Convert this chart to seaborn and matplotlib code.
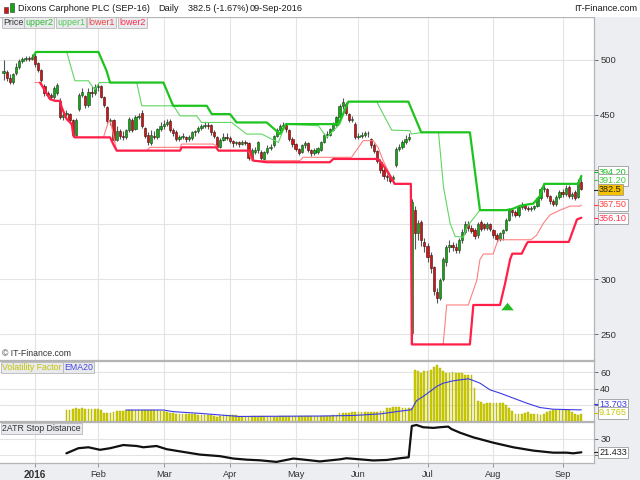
import numpy as np
import pandas as pd
import matplotlib
matplotlib.use("Agg")
import matplotlib.pyplot as plt
from matplotlib.patches import Rectangle
from matplotlib.transforms import blended_transform_factory
import seaborn as sns

# ---------------- data ----------------
holidays = ["2015-12-25", "2015-12-28", "2016-01-01", "2016-03-25",
            "2016-03-28", "2016-05-02", "2016-05-30", "2016-08-29"]
dates = pd.bdate_range("2015-12-16", "2016-09-09", freq="C", holidays=holidays)

opens = [488, 489, 484, 480, 488, 494, 499, 501, 502, 501,
         504, 497, 491, 476, 470, 468, 466, 470, 463, 448,
         451, 451, 445, 432, 455, 468, 467, 459, 471, 470,
         475, 476, 466, 457, 444, 445, 427, 435, 431, 430,
         436, 445, 437, 448, 452, 438, 432, 424, 431, 430,
         437, 440, 442, 444, 436, 434, 428, 430, 430, 428,
         429, 434, 435, 438, 440, 441, 441, 434, 430, 421,
         427, 430, 429, 426, 424, 425, 423, 425, 424, 411,
         416, 418, 416, 410, 416, 420, 422, 431, 436, 440,
         441, 436, 428, 423, 419, 416, 422, 424, 418, 415,
         416, 418, 425, 432, 432, 436, 441, 448, 458, 460,
         451, 445, 442, 430, 431, 432, 433, 428, 422, 417,
         407, 400, 394, 393, 391, 404, 419, 421, 425, 428,
         251, 363, 342, 352, 334, 330, 322, 311, 288, 283,
         300, 316, 329, 331, 329, 327, 336, 343, 350, 347,
         345, 340, 352, 350, 347, 350, 345, 340, 337, 342,
         345, 354, 363, 361, 359, 366, 368, 365, 364, 365,
         367, 374, 382, 382, 376, 371, 369, 375, 380, 378,
         384, 376, 380, 375, 389]
closes = [490, 484, 480, 487, 494, 499, 501, 502, 501, 503,
          496, 491, 482, 470, 468, 466, 474, 477, 448, 450,
          452, 445, 432, 445, 468, 471, 459, 471, 470, 475,
          476, 466, 459, 444, 445, 427, 435, 431, 430, 436,
          446, 436, 448, 449, 440, 431, 425, 432, 430, 437,
          440, 442, 443, 436, 433, 428, 430, 431, 428, 430,
          434, 435, 438, 440, 441, 440, 434, 431, 421, 427,
          430, 429, 426, 424, 425, 423, 425, 424, 411, 418,
          418, 425, 411, 416, 420, 421, 431, 436, 440, 441,
          437, 428, 423, 419, 415, 422, 424, 418, 415, 418,
          420, 425, 432, 432, 437, 442, 448, 458, 462, 452,
          445, 446, 430, 431, 432, 433, 433, 422, 417, 408,
          400, 394, 393, 390, 393, 419, 421, 425, 428, 430,
          370, 342, 351, 336, 330, 320, 310, 289, 283, 299,
          318, 329, 331, 329, 327, 336, 343, 350, 347, 344,
          339, 350, 346, 347, 350, 346, 340, 337, 342, 345,
          354, 363, 361, 359, 366, 368, 365, 364, 365, 367,
          374, 382, 383, 376, 371, 369, 375, 380, 378, 383,
          376, 378, 374, 389, 382.5]
highs = [500, 491, 487, 488, 497, 501, 503, 504, 504, 505,
         506, 498, 492, 478, 472, 470, 476, 479, 465, 453,
         454, 452, 446, 447, 470, 474, 468, 474, 476, 478,
         479, 477, 467, 458, 447, 446, 440, 437, 435, 437,
         448, 447, 450, 452, 454, 439, 434, 436, 435, 438,
         443, 445, 446, 446, 438, 436, 432, 433, 431, 432,
         435, 436, 440, 442, 443, 443, 442, 436, 431, 429,
         433, 433, 431, 427, 426, 426, 427, 427, 425, 420,
         421, 426, 418, 417, 422, 423, 432, 438, 442, 443,
         442, 437, 430, 424, 420, 423, 426, 425, 419, 420,
         421, 426, 433, 435, 438, 443, 449, 460, 465, 462,
         452, 449, 443, 433, 434, 435, 435, 429, 424, 418,
         410, 401, 396, 395, 395, 421, 423, 427, 432, 433,
         373, 367, 354, 354, 338, 333, 325, 312, 292, 301,
         320, 331, 336, 334, 333, 338, 346, 353, 353, 349,
         347, 352, 354, 351, 352, 351, 346, 342, 343, 346,
         356, 365, 365, 363, 367, 370, 369, 367, 367, 368,
         375, 384, 387, 383, 377, 373, 377, 381, 382, 386,
         386, 380, 381, 391, 394]
lows = [482, 481, 478, 478, 486, 492, 497, 499, 499, 500,
        494, 489, 480, 467, 465, 464, 464, 468, 446, 445,
        449, 442, 430, 430, 453, 466, 456, 457, 466, 468,
        472, 465, 457, 442, 441, 425, 426, 428, 427, 428,
        434, 434, 436, 446, 438, 429, 422, 422, 428, 428,
        435, 437, 440, 434, 431, 426, 426, 428, 425, 426,
        427, 431, 433, 436, 438, 437, 432, 429, 419, 420,
        426, 427, 424, 421, 422, 421, 422, 422, 409, 409,
        414, 415, 409, 408, 414, 418, 421, 430, 434, 437,
        434, 426, 421, 417, 413, 415, 420, 416, 412, 413,
        414, 417, 424, 429, 431, 435, 440, 447, 455, 450,
        443, 443, 428, 428, 429, 430, 430, 420, 415, 406,
        397, 391, 390, 388, 389, 402, 417, 419, 423, 426,
        241, 328, 336, 330, 325, 316, 306, 286, 278, 281,
        298, 312, 325, 326, 324, 324, 333, 341, 344, 342,
        337, 338, 344, 345, 345, 344, 338, 334, 335, 336,
        344, 353, 358, 357, 357, 364, 363, 362, 362, 363,
        366, 372, 380, 374, 369, 367, 367, 373, 375, 376,
        374, 373, 372, 374, 381]

# channel lines (trading-day index, price) vertices
upper2_idx = [9.5, 10.3, 30.2, 32.8, 33.9, 50.9, 54, 64.7, 66.3, 72.1, 74.2, 83.8, 88, 89.9,
              106.6, 108, 109.8, 128.9, 133, 148.5, 151.7, 160, 162, 164.5, 166.5, 168.7,
              170.8, 172.2, 183, 184]
upper2_val = [503.6, 507.3, 507.3, 490, 479.4, 479.4, 458.2, 458.2, 450.6, 450.6, 443, 443,
              432.5, 441.5, 441.5, 450, 462, 462, 434, 434, 363, 363, 364, 367, 368, 369,
              376, 387, 387, 394.2]
upper1_idx = [9.5, 10.3, 20.1, 22.7, 27, 29, 30.5, 42.4, 44, 54.1, 56.2, 61.5, 63, 72.6,
              77.4, 82.2, 87.5, 89.9, 100.3, 102.9, 107.1, 109.8, 118.8, 123.6, 129.4,
              129.9, 133.7, 138.5, 140.1, 142.2, 143.8, 146.5, 147.6, 151.7, 160, 162,
              164.5, 166.5, 168.7, 170.8, 172.2, 183, 184]
upper1_val = [503.6, 507.3, 507.3, 481, 481, 473, 479.4, 479.4, 458.2, 458.2, 449, 449,
              443, 443, 432.4, 432.4, 424.8, 441.5, 440, 429.3, 441.5, 462, 462, 436,
              435.5, 432.5, 434, 434, 384, 351, 339, 338.5, 348, 363, 363, 364,
              367, 368, 369, 376, 387, 387, 391.2]
lower2_idx = [11.6, 13.2, 14.8, 16.4, 18, 18.5, 20.1, 21.7, 22.2, 22.7, 33.9, 34.9, 36,
              56.2, 56.7, 67.7, 68.4, 78.5, 79.5, 83.8, 103.9, 105, 119.3, 120.9, 124,
              124.5, 129.7, 130, 148.5, 149.6, 158.1, 159.7, 161.3, 162, 165, 166.5,
              167, 180, 182.6, 184]
lower2_val = [479.4, 471.8, 464.2, 462.7, 462.7, 456.7, 446, 441.5, 431, 429.4, 429.4,
              423.3, 417.3, 417.3, 420.3, 420.3, 417.3, 417.3, 408.2, 406.7, 406.7, 409.7,
              409.7, 404, 390, 387, 387, 240.5, 240.5, 276.5, 276.5, 296, 318, 323.3,
              323.3, 332, 334, 334, 354.5, 356.1]
lower1_idx = [10, 12, 13.2, 14.8, 16.4, 18, 18.5, 20.1, 21.7, 22.2, 22.7, 31.8, 33.5,
              34.2, 36, 45.6, 46.6, 56.2, 56.7, 66.8, 67.7, 68.4, 78, 79, 94.4, 95.4,
              110.8, 114.5, 117.7, 119.3, 120.9, 124, 124.5, 129.7, 130, 140, 141.1,
              148, 150.7, 151.7, 152.8, 155.9, 157, 157.6, 168, 169.7, 171.9, 174,
              177.2, 180.4, 183.5, 184]
lower1_val = [479.4, 479.4, 471.8, 464.2, 462.7, 462.7, 456.7, 446, 441.5, 431, 429.4,
              429.4, 445, 442, 417.3, 417.3, 420.3, 420.3, 423.3, 423.3, 421.8, 417.3,
              417.3, 408.2, 408.2, 411.2, 411.2, 426.4, 426.4, 420, 408, 390, 387, 387,
              240.5, 240.5, 276.5, 276.5, 299, 318, 323, 323, 332, 336, 336, 340, 351,
              358.6, 363, 366.7, 366.7, 367.5]

# volatility factor bars (last 165 trading days)
vol_factor = [13.5, 13.5, 14.5, 15.6, 14.5, 15.6, 14.5, 14.5, 14.5, 14.5, 14.5,
              13.5, 10.4, 10.4, 10.4, 11.5, 12.5, 12.5, 12.5,
              13.5, 13.5, 13.5, 13.5, 13.5, 13.5, 13.5, 13.5, 13.5, 13.5, 13.5,
              12.5, 12, 11.5, 10.4, 9.4,
              8.4, 8.4, 8.4, 8.4, 8.4, 8.4, 8.4,
              8, 7.4, 7.4, 7.4, 7.4,
              6.3, 5.3, 6.3, 6.8, 6.8, 6.8, 6.8, 6.8,
              5.5, 4.8, 4.8, 5.3, 6.3, 6.3,
              6.3, 6.3, 6, 6, 5.8, 5.5, 5.5, 5.8, 6, 6,
              6.3, 6.3, 6.3, 6, 6, 6, 6.3, 6.3, 6.3, 6.3,
              6.3, 6.3, 6.3, 6.3, 7.4, 7.4,
              10, 10, 10, 10, 11,
              11.5, 11.5, 11.5, 11.5, 11.5, 11.5, 11.5, 11.5,
              12, 12,
              15.5, 16.5, 17.5, 17.5, 17, 16, 16, 16, 16,
              63, 61.5, 59.5, 61.5, 61, 63, 67, 69, 65, 61.5,
              59.5, 59.5, 60, 59.5, 59.5, 59, 57, 57, 57, 40.6,
              25, 23.4, 21.3, 22, 22, 22, 22, 22, 22, 20,
              16, 12.7, 8.6, 8.6, 8.6, 9.9, 11, 9, 8.6, 8.6,
              7, 8.6, 11, 12.7, 13.5, 13.5, 13.5, 13.5, 13.5, 13.5,
              11, 8.6, 7, 9.1765]
ema20_idx = [39, 51, 54, 62.5, 69, 75, 100.7, 111.4, 120, 126, 129.9, 131.5, 133.6, 135.8,
             137.9, 140, 143.2, 145.4, 148, 149, 151.7, 154.9, 158.1, 162.3, 166.6, 170.8,
             175, 180, 184]
ema20_val = [13.5, 13.5, 11.5, 9.4, 7.4, 5.6, 6.1, 6.8, 8.8, 12, 13.9, 25, 30.2, 36.4,
             42.5, 46.6, 49.5, 50.7, 52, 50.7, 46.6, 38.4, 34.3, 28.2, 22, 16.6,
             14.5, 14, 13.703]
atr_idx = [20, 23.8, 27, 30.7, 33.9, 38.1, 42.4, 44.5, 48.7, 51.9, 56.2, 62.5, 68.9, 73.2,
           77.4, 81.6, 86.9, 92.3, 97.6, 100.7, 107.1, 109.2, 113.5, 117.7, 122, 126.2,
           129, 130, 131.5, 133.6, 136.9, 138.9, 141.6, 142.6, 145.3, 149.5, 155.9,
           162.3, 168.7, 175, 179.3, 181.4, 184]
atr_val = [20.8, 24, 24.6, 23, 24, 26, 25.4, 24.6, 25.4, 23.4, 22, 20, 19, 17.5,
           16.8, 16.4, 15.4, 17.5, 16.4, 15.7, 17, 17.7, 17, 16.3, 16.6, 17.7,
           18.3, 38, 38.6, 37.2, 36.8, 37.2, 37.6, 36.1, 33.8, 30.9, 27.5,
           24.6, 22.5, 21.2, 21.2, 20.8, 21.433]

price_ticks = [250, 300, 350, 400, 450, 500]
price_tick_labels = ['250', '300', '', '', '450', '500']
vol_ticks = [20, 40, 60]
vol_tick_labels = ['', '40', '60']
atr_ticks = [20, 30]
atr_tick_labels = ['', '30']

assert len(dates) == len(opens) == len(closes) == len(highs) == len(lows)

# ---------------- style ----------------
sns.set_theme(style="white")
plt.rcParams['font.family'] = ['Liberation Sans', 'DejaVu Sans']

W, H = 640, 480
BG = '#eceef1'
GRID = '#e3e3e3'
SPINE = '#b4b4b4'
fig = plt.figure(figsize=(6.4, 4.8), dpi=100, facecolor=BG)

def fx(px):
    return px / W

def fy(py):
    return 1 - py / H

AXR = 594
ax_p = fig.add_axes([0, fy(360), fx(AXR), (360 - 17) / H])
ax_v = fig.add_axes([0, fy(421), fx(AXR), (421 - 361) / H])
ax_a = fig.add_axes([0, fy(463), fx(AXR), (463 - 422) / H])

# title strip
fig.patches.append(Rectangle((0, fy(17)), 1, 17 / H, transform=fig.transFigure,
                             facecolor='white', edgecolor='none', zorder=0))

n = len(dates)
x = np.arange(n)
xlim = (-1.15, (AXR - 3.6) / 3.14)

month_idx = [i for i in range(1, n) if dates[i].month != dates[i - 1].month]
month_lab = ['2016' if dates[i].month == 1 else dates[i].strftime('%b') for i in month_idx]

for ax in (ax_p, ax_v, ax_a):
    ax.set_facecolor('white')
    ax.set_xlim(*xlim)
    for i in month_idx:
        ax.axvline(i, color=GRID, lw=0.8, zorder=0)
    for s in ax.spines.values():
        s.set_color(SPINE)
        s.set_linewidth(0.9)
    ax.spines['left'].set_visible(False)
    ax.yaxis.tick_right()
    ax.tick_params(axis='y', which='both', length=3, width=0.6, color='#555555',
                   pad=1.5, labelsize=6.8, labelcolor='#333333', right=True)
    ax.set_xticks([])

# ---------------- price panel ----------------
ax_p.set_ylim(226.3, 539.2)
ax_p.set_yticks(price_ticks)
ax_p.set_yticklabels(price_tick_labels)
for t in price_ticks:
    ax_p.axhline(t, color=GRID, lw=0.8, zorder=0)

o = np.array(opens, float)
c = np.array(closes, float)
hi = np.array(highs, float)
lo = np.array(lows, float)
up = c >= o
ax_p.vlines(x, lo, hi, color='#555555', lw=0.8, zorder=3)
body_bot = np.minimum(o, c)
body_h = np.maximum(np.abs(c - o), 0.8)
ax_p.bar(x[up], body_h[up], bottom=body_bot[up], width=0.72, color='#10a810',
         edgecolor='#1f3f1f', linewidth=0.4, zorder=4)
ax_p.bar(x[~up], body_h[~up], bottom=body_bot[~up], width=0.72, color='#d41414',
         edgecolor='#3a1010', linewidth=0.4, zorder=4)

line_specs = [
    (upper1_idx, upper1_val, '#62d662', 0.8),
    (lower1_idx, lower1_val, '#ff8080', 0.8),
    (upper2_idx, upper2_val, '#1dc41d', 1.6),
    (lower2_idx, lower2_val, '#ff1f48', 1.6),
]
for xi, yi, col, lw in line_specs:
    sns.lineplot(x=xi, y=yi, ax=ax_p, color=col, linewidth=lw, sort=False,
                 estimator=None, zorder=5)
ax_p.set_xlabel('')
ax_p.set_ylabel('')

# arrow marker
ax_p.annotate('', xy=(160.5, 281), xytext=(160.5, 270),
              arrowprops=dict(arrowstyle='simple,head_width=0.75,head_length=0.45,tail_width=0.32',
                              color='#22bb22', lw=0))

tr_p = blended_transform_factory(ax_p.transAxes, ax_p.transData)

def vlabel(ax, tr, yv, text, color, fc='white', size=6.6):
    ax.text(1.0085, yv, text, transform=tr, fontsize=size, color=color, va='center',
            ha='left', clip_on=False, zorder=20,
            bbox=dict(boxstyle='square,pad=0.12', fc=fc, ec='#9c9c9c', lw=0.6))
    ax.plot([1.0, 1.007], [yv, yv], transform=tr, color=color, lw=0.8,
            clip_on=False, zorder=19)

vlabel(ax_p, tr_p, upper2_val[-1] + 3.6, f"{upper2_val[-1]:.2f}", '#22bb22')
vlabel(ax_p, tr_p, upper1_val[-1] - 0.7, f"{upper1_val[-1]:.2f}", '#44cc44')
vlabel(ax_p, tr_p, closes[-1] - 1.0, f"{closes[-1]:.1f}", '#222222', fc='#f6c200')
vlabel(ax_p, tr_p, lower1_val[-1] + 0.2, f"{lower1_val[-1]:.2f}", '#ff4040')
vlabel(ax_p, tr_p, lower2_val[-1] - 0.7, f"{lower2_val[-1]:.2f}", '#ff3050')

# ---------------- volatility panel ----------------
ax_v.set_ylim(0, 73.9)
ax_v.set_yticks(vol_ticks)
ax_v.set_yticklabels(vol_tick_labels)
for t in vol_ticks:
    ax_v.axhline(t, color=GRID, lw=0.8, zorder=0)
xv = x[-len(vol_factor):]
ax_v.bar(xv, vol_factor, width=0.55, color='#cccc00', edgecolor='#b0b000',
         linewidth=0.3, zorder=3)
sns.lineplot(x=ema20_idx, y=ema20_val, ax=ax_v, color='#3b3be6', linewidth=0.8,
             sort=False, estimator=None, zorder=4)
ax_v.set_xlabel('')
ax_v.set_ylabel('')
tr_v = blended_transform_factory(ax_v.transAxes, ax_v.transData)
vlabel(ax_v, tr_v, 20.8, f"{ema20_val[-1]:.3f}", '#3b3be6')
vlabel(ax_v, tr_v, 9.9, f"{vol_factor[-1]:.4f}", '#c8c800')

# ---------------- ATR panel ----------------
ax_a.set_ylim(14.7, 40.5)
ax_a.set_yticks(atr_ticks)
ax_a.set_yticklabels(atr_tick_labels)
for t in atr_ticks:
    ax_a.axhline(t, color=GRID, lw=0.8, zorder=0)
sns.lineplot(x=atr_idx, y=atr_val, ax=ax_a, color='#111111', linewidth=1.6,
             sort=False, estimator=None, zorder=4)
ax_a.set_xlabel('')
ax_a.set_ylabel('')
tr_a = blended_transform_factory(ax_a.transAxes, ax_a.transData)
vlabel(ax_a, tr_a, atr_val[-1], f"{atr_val[-1]:.3f}", '#222222')

ax_a.set_xticks(month_idx)
ax_a.set_xticklabels(month_lab)
ax_a.tick_params(axis='x', length=3, width=0.6, color='#888888', pad=2,
                 labelsize=6.6, labelcolor='#333333', bottom=True)
for lab in ax_a.get_xticklabels():
    if lab.get_text() == '2016':
        lab.set_fontweight('bold')
        lab.set_fontsize(7.2)

# ---------------- texts ----------------
def ftxt(px, py, s, color='#1a1a1a', size=6.8, box=None, **kw):
    fig.text(fx(px), fy(py), s, color=color, fontsize=size, va='center', ha=kw.pop('ha', 'left'),
             bbox=box, **kw)

ftxt(18, 8.5, 'Dixons Carphone PLC (SEP-16)', size=6.6)
ftxt(158, 8.5, 'Daily', size=6.6)
ftxt(188, 8.5, '382.5 (-1.67%)', size=6.6)
ftxt(250, 8.5, '09-Sep-2016', size=6.6)
ftxt(637, 8.5, 'IT-Finance.com', size=6.6, ha='right')

# icon
fig.patches.append(Rectangle((fx(4), fy(13)), 3.5 / W, 6 / H, transform=fig.transFigure,
                             facecolor='#d41414', edgecolor='#333333', lw=0.4))
fig.patches.append(Rectangle((fx(10), fy(12)), 3.5 / W, 9 / H, transform=fig.transFigure,
                             facecolor='#10a810', edgecolor='#333333', lw=0.4))

legbox = dict(boxstyle='square,pad=0.15', fc='#e8eaee', ec='#b8b8b8', lw=0.6)
ftxt(3, 22.5, 'Price', color='#333333', size=6.4, box=legbox)
ftxt(25, 22.5, 'upper2', color='#2cba2c', size=6.4, box=legbox)
ftxt(57, 22.5, 'upper1', color='#4fcc4f', size=6.4, box=legbox)
ftxt(88, 22.5, 'lower1', color='#ee4040', size=6.4, box=legbox)
ftxt(119, 22.5, 'lower2', color='#ff2a50', size=6.4, box=legbox)

ftxt(2, 354, '\u00a9 IT-Finance.com', color='#333333', size=6.3)
ftxt(2, 367.5, 'Volatility Factor', color='#c4c400', size=6.3, box=legbox)
ftxt(64, 367.5, 'EMA20', color='#4646dd', size=6.3, box=legbox)
ftxt(2, 428.5, '2ATR Stop Distance', color='#333333', size=6.3, box=legbox)

fig.savefig('out.png', dpi=100, facecolor=BG)
